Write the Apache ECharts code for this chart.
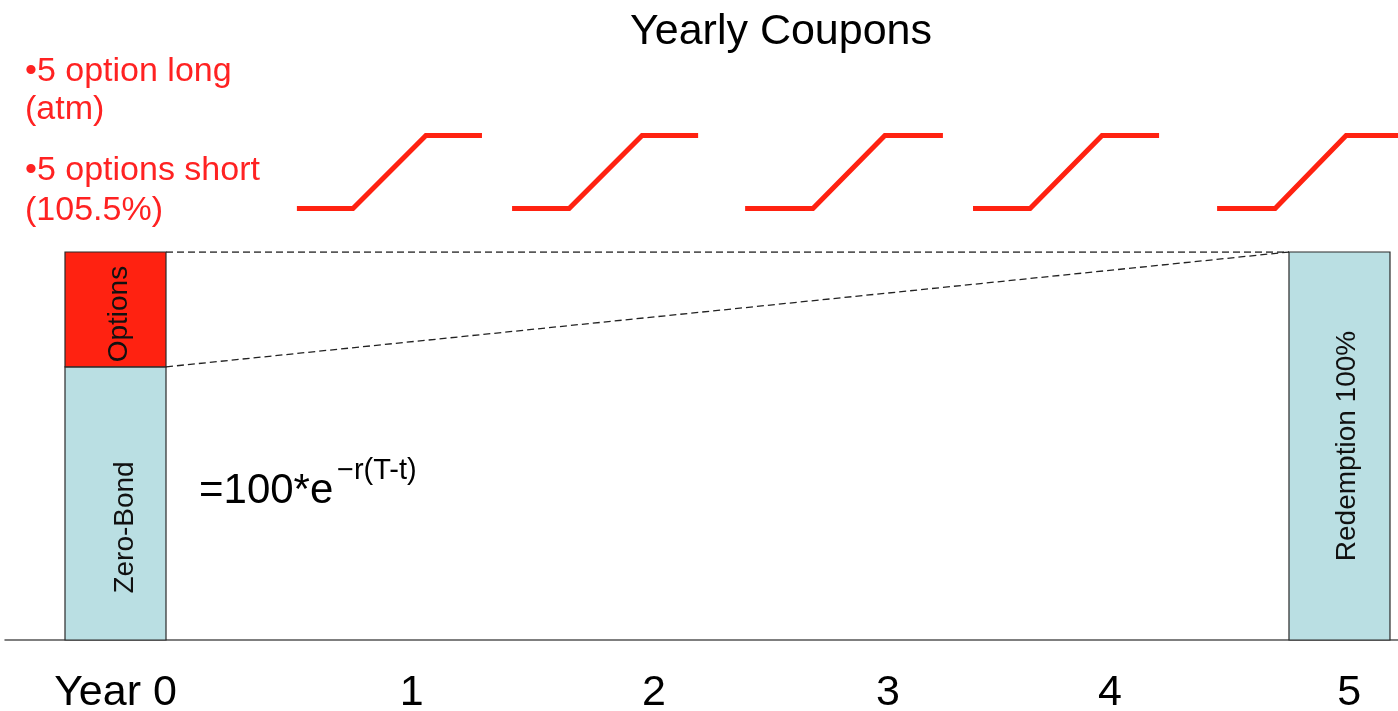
<!DOCTYPE html>
<html>
<head>
<meta charset="utf-8">
<script src="https://cdn.jsdelivr.net/npm/echarts@6/dist/echarts.min.js"></script>
<style>
  html, body { margin: 0; padding: 0; background: #fff; }
  #chart { width: 1398px; height: 711px; }
</style>
</head>
<body>
<div id="chart"></div>
<script>
// Time axis (years) and where each year label sits
const yearLabels = ['Year 0', '1', '2', '3', '4', '5'];
const yearLabelPos = [0, 1.21, 2.2, 3.155, 4.062, 5.04];

// Building blocks of the note, in % of nominal
const blockNames = ['Zero-Bond', 'Options', 'Redemption 100%'];
const blockYear = [0, 0, 5];
const blockBase = [0, 70.4, 0];
const blockValue = [70.4, 29.6, 100];
const blockLabelAt = [29, 84, 50];

// Yearly coupon payoff (call spread 100% / 105.5%): breakpoints along the time axis and payoff in %
const payoffX = [
  [0.741, 0.970, 1.268, 1.497],
  [1.620, 1.853, 2.151, 2.380],
  [2.572, 2.849, 3.143, 3.380],
  [3.503, 3.736, 4.030, 4.263],
  [4.500, 4.737, 5.027, 5.300]
];
const payoffY = [0, 0, 5.5, 5.5];

const noteLines = ['•5 option long', '(atm)', '•5 options short', '(105.5%)'];
const formulaMain = '=100*e';
const formulaExp = '−r(T-t)';

const FONT = '"Liberation Sans", Arial, Helvetica, sans-serif';
const RED = '#ff2211';
const BLUE = '#badfe3';
const blockColors = [BLUE, RED, BLUE];
const labelShift = [10, 4, 8];
const HALF = 0.2063;           // half bar width in years
const X_MIN = -0.4514, X_MAX = 5.239;

const chart = echarts.init(document.getElementById('chart'), null, { renderer: 'canvas' });

function renderBlock(params, api) {
  const i = params.dataIndex;
  const x = api.value(0);
  const base = api.value(1);
  const top = base + api.value(2);
  const p0 = api.coord([x - HALF, top]);
  const p1 = api.coord([x + HALF, base]);
  const lab = api.coord([x, api.value(3)]);
  return {
    type: 'group',
    children: [
      {
        type: 'rect',
        shape: { x: p0[0], y: p0[1], width: p1[0] - p0[0], height: p1[1] - p0[1] },
        style: { fill: blockColors[i], stroke: '#2a2a2a', lineWidth: 1.2 }
      },
      {
        type: 'text',
        x: lab[0] + labelShift[i],
        y: lab[1],
        rotation: Math.PI / 2,
        style: {
          text: blockNames[i],
          fontSize: 28,
          fontFamily: FONT,
          fill: '#111',
          align: 'center',
          verticalAlign: 'middle'
        }
      }
    ]
  };
}

const blockData = blockYear.map((x, i) => [x, blockBase[i], blockValue[i], blockLabelAt[i]]);

// Dashed connectors from the year-0 stack to the redemption bar
const startX = blockYear[0] + HALF;
const endX = blockYear[2] - HALF;
const endTop = blockBase[2] + blockValue[2];
const topConnector = [[startX, blockBase[1] + blockValue[1]], [endX, endTop]];
const lowConnector = [[startX, blockBase[1]], [endX, endTop]];

const payoffSeries = payoffX.map(xs => ({
  type: 'line',
  xAxisIndex: 1,
  yAxisIndex: 1,
  data: xs.map((x, k) => [x, payoffY[k]]),
  symbol: 'none',
  silent: true,
  lineStyle: { color: RED, width: 5, join: 'miter', cap: 'butt' },
  clip: true,
  z: 3
}));

function nearestLabel(v) {
  let best = 0;
  for (let k = 1; k < yearLabelPos.length; k++) {
    if (Math.abs(yearLabelPos[k] - v) < Math.abs(yearLabelPos[best] - v)) best = k;
  }
  return yearLabels[best];
}

const dashStyle = { color: '#222', width: 1.3, type: [7, 4] };

const option = {
  backgroundColor: '#fff',
  animation: false,
  title: {
    text: 'Yearly Coupons',
    left: 630,
    top: 11,
    padding: 0,
    textStyle: { fontSize: 43, fontWeight: 'normal', color: '#000', fontFamily: FONT }
  },
  grid: [
    { left: 5, right: 0, top: 252, bottom: 71, containLabel: false, outerBoundsMode: 'none' },
    { left: 5, right: 0, top: 135.5, height: 73, containLabel: false, outerBoundsMode: 'none' }
  ],
  xAxis: [
    {
      type: 'value', gridIndex: 0, min: X_MIN, max: X_MAX,
      splitLine: { show: false },
      axisTick: { show: false },
      axisLine: { show: true, lineStyle: { color: '#555', width: 1.5 } },
      axisLabel: {
        customValues: yearLabelPos,
        formatter: nearestLabel,
        fontSize: 43,
        lineHeight: 43,
        color: '#000',
        fontFamily: FONT,
        margin: 32
      }
    },
    { type: 'value', gridIndex: 1, min: X_MIN, max: X_MAX, show: false }
  ],
  yAxis: [
    { type: 'value', gridIndex: 0, min: 0, max: 100, show: false },
    { type: 'value', gridIndex: 1, min: 0, max: 5.5, show: false }
  ],
  series: [
    {
      type: 'custom',
      name: 'Blocks',
      xAxisIndex: 0,
      yAxisIndex: 0,
      renderItem: renderBlock,
      encode: { x: 0, y: [1, 2] },
      data: blockData,
      silent: true,
      z: 2
    },
    {
      type: 'line', xAxisIndex: 0, yAxisIndex: 0, data: topConnector,
      symbol: 'none', silent: true, lineStyle: dashStyle, z: 1
    },
    {
      type: 'line', xAxisIndex: 0, yAxisIndex: 0, data: lowConnector,
      symbol: 'none', silent: true, lineStyle: dashStyle, z: 1
    },
    ...payoffSeries
  ],
  graphic: [
    ...noteLines.map((t, k) => ({
      type: 'text',
      left: 25,
      y: [72, 110, 171, 211][k],
      style: {
        text: t, fontSize: 34, fontFamily: FONT, fill: '#ff2222',
        verticalAlign: 'middle'
      }
    })),
    {
      type: 'text', x: 199, y: 491,
      style: { text: formulaMain, fontSize: 42, fontFamily: FONT, fill: '#000', verticalAlign: 'middle' }
    },
    {
      type: 'text', x: 337, y: 471,
      style: { text: formulaExp, fontSize: 29, fontFamily: FONT, fill: '#000', verticalAlign: 'middle' }
    }
  ]
};

chart.setOption(option);
</script>
</body>
</html>
